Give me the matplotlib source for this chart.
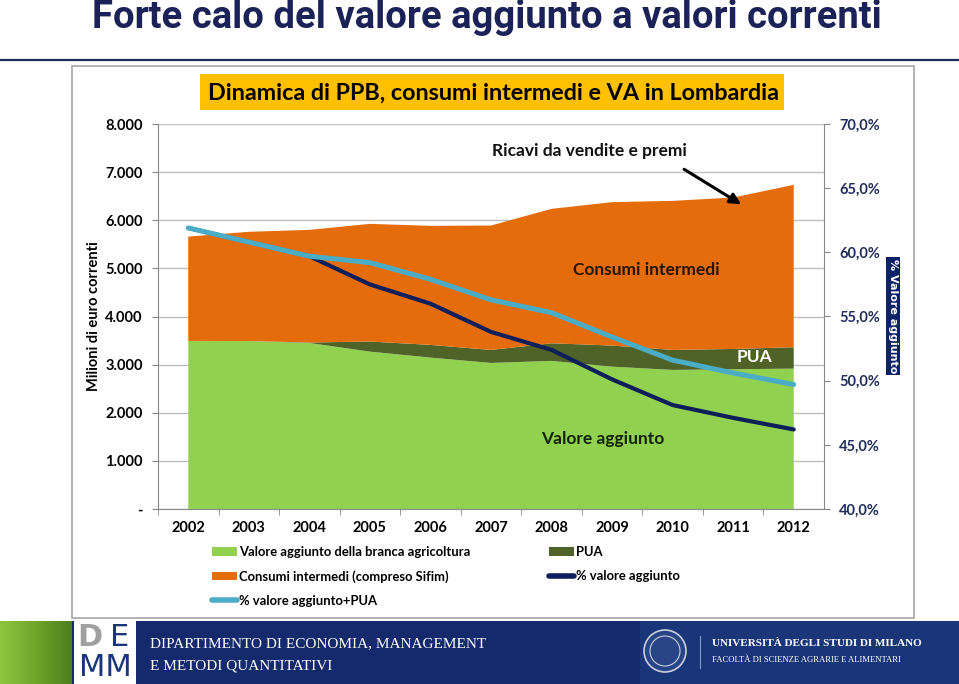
import numpy as np
import matplotlib
matplotlib.use("Agg")
import matplotlib.pyplot as plt
from matplotlib.patches import Patch, Rectangle, Circle
from matplotlib.lines import Line2D

# valori (milioni di euro correnti)
years = [2002, 2003, 2004, 2005, 2006, 2007, 2008, 2009, 2010, 2011, 2012]
valore_aggiunto = [3493, 3490, 3450, 3270, 3146, 3035, 3077, 2958, 2890, 2904, 2917]
pua = [0, 0, 10, 210, 264, 270, 367, 438, 416, 422, 444]
consumi_intermedi = [2167, 2270, 2340, 2445, 2474, 2585, 2793, 2980, 3097, 3146, 3375]

# percentuali (asse destro)
perc_va = [61.9, 60.8, 59.7, 57.5, 56.0, 53.8, 52.4, 50.1, 48.1, 47.1, 46.2]
perc_va_pua = [61.9, 60.8, 59.7, 59.2, 57.9, 56.3, 55.3, 53.4, 51.6, 50.6, 49.7]

left_ticks = [0, 1000, 2000, 3000, 4000, 5000, 6000, 7000, 8000]
left_labels = ["-", "1.000", "2.000", "3.000", "4.000", "5.000", "6.000", "7.000", "8.000"]
right_ticks = [40, 45, 50, 55, 60, 65, 70]
right_labels = ["40,0%", "45,0%", "50,0%", "55,0%", "60,0%", "65,0%", "70,0%"]

GREEN = "#92D050"
OLIVE = "#4F6228"
ORANGE = "#E46C0A"
LIGHTBLUE = "#4BACC6"
NAVY = "#0F1F5A"
TITLE_NAVY = "#1A2258"
FONT = ["Lato", "DejaVu Sans"]

W, H = 959, 684
fig = plt.figure(figsize=(W / 100, H / 100), dpi=100)

# sfondo della slide in coordinate pixel
bg = fig.add_axes([0, 0, 1, 1], zorder=0)
bg.set_xlim(0, W)
bg.set_ylim(H, 0)
bg.axis("off")

bg.text(487, 18, "Forte calo del valore aggiunto a valori correnti",
        ha="center", va="center", fontsize=27.5, fontweight="bold",
        color=TITLE_NAVY, family=["Roboto", "DejaVu Sans"])
bg.plot([0, W], [60, 60], color="#1F2A5C", lw=1.6)

# cornice del grafico
bg.add_patch(Rectangle((72, 66), 842, 552, facecolor="white",
                       edgecolor="#A6A6A6", lw=1.2))

# titolo del grafico su fondo giallo
bg.add_patch(Rectangle((200, 74), 584, 36, facecolor="#FFC000", edgecolor="none"))
bg.text(493, 93, "Dinamica di PPB, consumi intermedi e VA in Lombardia",
        ha="center", va="center", fontsize=16.8, fontweight="bold",
        color="black", family=FONT)

# piede della slide
bg.add_patch(Rectangle((0, 621), W, 63, facecolor="#142A6C", edgecolor="none"))
bg.add_patch(Rectangle((640, 621), W - 640, 63, facecolor="#1A3678", edgecolor="none"))
grad = np.linspace(0, 1, 100).reshape(1, -1)
bg.imshow(grad, extent=(0, 72, 684, 621), aspect="auto",
          cmap=matplotlib.colors.LinearSegmentedColormap.from_list(
              "g", ["#8CC63E", "#6FA52A", "#4E7E1C"]), zorder=1)
bg.add_patch(Rectangle((74, 621), 62, 63, facecolor="white", edgecolor="none", zorder=2))
bg.text(90, 638, "D", ha="center", va="center", fontsize=22, color="#A0A0A0",
        fontweight="bold", family="DejaVu Sans", zorder=3)
bg.text(120, 638, "E", ha="center", va="center", fontsize=22, color="#1A3678",
        family="DejaVu Sans", zorder=3)
bg.text(105, 668, "MM", ha="center", va="center", fontsize=22, color="#1A3678",
        family="DejaVu Sans", zorder=3)
bg.text(150, 644, "DIPARTIMENTO DI ECONOMIA, MANAGEMENT", ha="left", va="center",
        fontsize=11, color="white", family="Liberation Serif")
bg.text(150, 666, "E METODI QUANTITATIVI", ha="left", va="center",
        fontsize=11, color="white", family="Liberation Serif")
bg.add_patch(Circle((665, 651), 21, facecolor="#2A4586", edgecolor="#C8CFE0", lw=1.2))
bg.add_patch(Circle((665, 651), 15, facecolor="none", edgecolor="#C8CFE0", lw=0.8))
bg.plot([700, 700], [636, 668], color="#8A9AC4", lw=0.8)
bg.text(712, 644, "UNIVERSITÀ DEGLI STUDI DI MILANO", ha="left", va="center",
        fontsize=8, color="white", family="Liberation Serif", fontweight="bold")
bg.text(712, 660, "FACOLTÀ DI SCIENZE AGRARIE E ALIMENTARI", ha="left", va="center",
        fontsize=6.2, color="white", family="Liberation Serif")

# area del grafico
ax = fig.add_axes([158 / W, (H - 509) / H, 666 / W, 385 / H], zorder=2)
ax.set_facecolor("white")
ax.stackplot(years, valore_aggiunto, pua, consumi_intermedi,
             colors=[GREEN, OLIVE, ORANGE], lw=0)
ax.set_xlim(2001.5, 2012.5)
ax.set_ylim(0, 8000)
ax.set_yticks(left_ticks)
ax.set_yticklabels(left_labels, fontsize=10.5, fontweight="bold", family=FONT)
ax.set_xticks(years)
ax.set_xticklabels([str(y) for y in years], fontsize=10.5, fontweight="bold", family=FONT)
ax.set_xticks([y + 0.5 for y in years[:-1]] + [2001.5], minor=True)
ax.tick_params(axis="x", which="major", length=0, pad=9)
ax.tick_params(axis="x", which="minor", length=4, color="#888888")
ax.tick_params(axis="y", length=4, color="#888888", pad=7)
ax.grid(axis="y", color="#BFBFBF", lw=1)
ax.set_axisbelow(True)
for s in ["top", "right"]:
    ax.spines[s].set_visible(False)
ax.spines["left"].set_color("#888888")
ax.spines["bottom"].set_color("#888888")
ax.set_ylabel("Milioni di euro correnti", fontsize=10.5, fontweight="bold",
              family=FONT, labelpad=3)

ax.annotate("", xy=(2011.17, 6300), xytext=(2010.15, 7090),
            arrowprops=dict(arrowstyle="-|>", color="black", lw=2.2,
                            mutation_scale=16))
ax.text(2008.63, 7443, "Ricavi da vendite e premi", ha="center", va="center",
        fontsize=12.5, fontweight="bold", family=FONT, color="#111111")
ax.text(2009.56, 4970, "Consumi intermedi", ha="center", va="center",
        fontsize=12.5, fontweight="bold", family=FONT, color="#2A1505")
ax.text(2011.36, 3160, "PUA", ha="center", va="center",
        fontsize=12.5, fontweight="bold", family=FONT, color="white")
ax.text(2008.85, 1455, "Valore aggiunto", ha="center", va="center",
        fontsize=12.5, fontweight="bold", family=FONT, color="#14240A")

ax2 = ax.twinx()
ax2.plot(years, perc_va, color=NAVY, lw=3.0, solid_capstyle="round")
ax2.plot(years, perc_va_pua, color=LIGHTBLUE, lw=3.6, solid_capstyle="round")
ax2.set_ylim(40, 70)
ax2.set_yticks(right_ticks)
ax2.set_yticklabels(right_labels, fontsize=10.5, fontweight="bold", family=FONT,
                    color="#1F2D5C")
ax2.tick_params(axis="y", length=4, color="#888888", pad=7)
for s in ["top", "left", "bottom"]:
    ax2.spines[s].set_visible(False)
ax2.spines["right"].set_color("#888888")

bg.text(893, 316, "% Valore aggiunto", ha="center", va="center", rotation=270,
        fontsize=8, fontweight="bold", color="white", family="DejaVu Sans",
        bbox=dict(boxstyle="square,pad=0.2", facecolor="#0B2266", edgecolor="none"),
        zorder=5)

# legenda su due colonne
h_va = Patch(facecolor=GREEN, edgecolor="none")
h_ci = Patch(facecolor=ORANGE, edgecolor="none")
h_pua = Patch(facecolor=OLIVE, edgecolor="none")
h_pva = Line2D([], [], color=NAVY, lw=4, solid_capstyle="round")
h_pvp = Line2D([], [], color=LIGHTBLUE, lw=4, solid_capstyle="round")
leg_kw = dict(frameon=False, prop=dict(family=FONT, weight="bold", size=9.4),
              handlelength=1.9, handleheight=0.6, handletextpad=0.15,
              labelspacing=0.92, borderpad=0, borderaxespad=0, loc="upper left")
fig.legend([h_va, h_ci, h_pvp],
           ["Valore aggiunto della branca agricoltura",
            "Consumi intermedi (compreso Sifim)", "% valore aggiunto+PUA"],
           bbox_to_anchor=(212 / W, 1 - 546 / H), **leg_kw)
fig.legend([h_pua, h_pva], ["PUA", "% valore aggiunto"],
           bbox_to_anchor=(549 / W, 1 - 546 / H), **leg_kw)

fig.savefig("out.png", dpi=100)
